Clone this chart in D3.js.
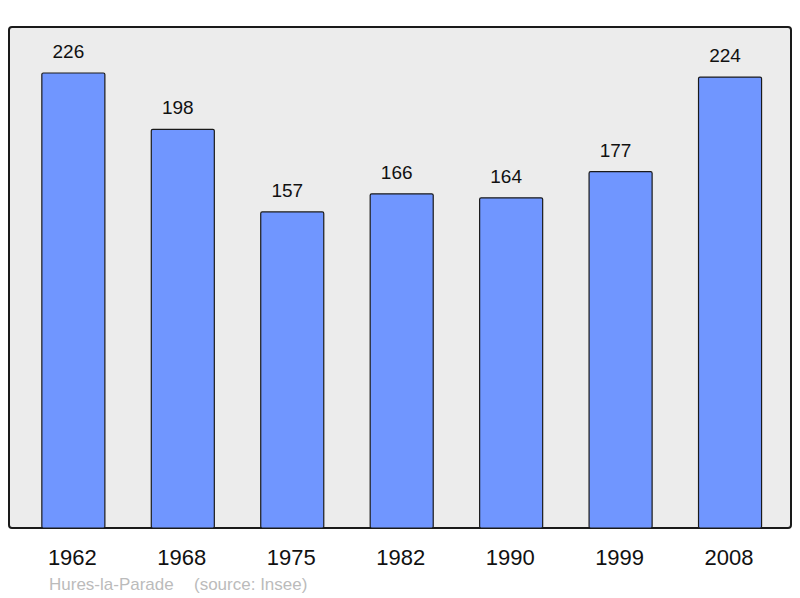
<!DOCTYPE html>
<html>
<head>
<meta charset="utf-8">
<script src="https://cdn.jsdelivr.net/npm/d3@7"></script>
<style>
  body { margin: 0; background: #fff; }
  text { font-family: "Liberation Sans", Arial, sans-serif; }
</style>
</head>
<body>
<div id="chart"></div>
<script>
// data
const years = ["1962", "1968", "1975", "1982", "1990", "1999", "2008"];
const population = [226, 198, 157, 166, 164, 177, 224];
const commune = "Hures-la-Parade";
const source = "(source: Insee)";

const width = 800, height = 598;
const frame = { left: 9, top: 27, right: 791, bottom: 528 };

const svg = d3.select("#chart")
  .append("svg")
  .attr("width", width)
  .attr("height", height);

// background frame
svg.append("rect")
  .attr("x", frame.left)
  .attr("y", frame.top)
  .attr("width", frame.right - frame.left)
  .attr("height", frame.bottom - frame.top)
  .attr("rx", 3)
  .attr("fill", "#ececec")
  .attr("stroke", "#1a1a1a")
  .attr("stroke-width", 2);

// scales
const x = d3.scaleBand()
  .domain(years)
  .range([frame.left, 794.4])
  .paddingInner(0.424)
  .paddingOuter(0.3);

const y = d3.scaleLinear()
  .domain([0, 226])
  .range([frame.bottom, 73]);

const data = years.map((yr, i) => ({ year: yr, value: population[i] }));

// bars
svg.selectAll("rect.bar")
  .data(data)
  .enter()
  .append("rect")
  .attr("class", "bar")
  .attr("x", d => x(d.year))
  .attr("y", d => y(d.value))
  .attr("width", x.bandwidth())
  .attr("height", d => y(0) - y(d.value))
  .attr("rx", 1.5)
  .attr("fill", "#7096ff")
  .attr("stroke", "#1a1a1a")
  .attr("stroke-width", 1.2);

// value labels (sit a little left of the bar centre, like the original)
svg.selectAll("text.value")
  .data(data)
  .enter()
  .append("text")
  .attr("class", "value")
  .attr("x", d => x(d.year) + x.bandwidth() / 2 - 5)
  .attr("y", d => y(d.value) - 15)
  .attr("text-anchor", "middle")
  .style("font-size", "19px")
  .attr("fill", "#111")
  .text(d => d.value);

// year labels (bottom axis without line/ticks)
const axis = svg.append("g")
  .attr("transform", `translate(0,${frame.bottom})`)
  .call(d3.axisBottom(x).tickSize(0).tickPadding(0));
axis.select(".domain").remove();
axis.selectAll("text")
  .attr("x", -1)
  .attr("y", 37)
  .attr("dy", null)
  .style("font-family", "'Liberation Sans', Arial, sans-serif")
  .style("font-size", "22px")
  .attr("fill", "#111");

// footer
svg.append("text")
  .attr("x", 49)
  .attr("y", 590)
  .style("font-size", "17px")
  .attr("fill", "#bbbbbb")
  .text(commune);

svg.append("text")
  .attr("x", 194)
  .attr("y", 590)
  .style("font-size", "17px")
  .attr("fill", "#bbbbbb")
  .text(source);
</script>
</body>
</html>
